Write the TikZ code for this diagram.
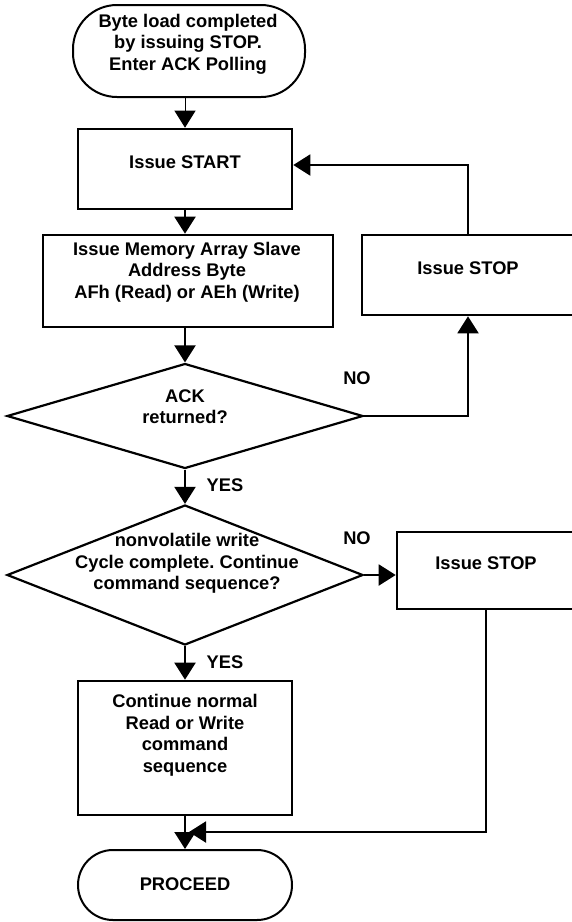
\documentclass[tikz,border=0pt]{standalone}
\usepackage{fontspec}
\setmainfont{Liberation Sans}
\frenchspacing
\usetikzlibrary{shapes.geometric, arrows.meta}

\begin{document}
\begin{tikzpicture}[x=1pt, y=-1pt,
  every node/.style={inner sep=0pt},
  txt/.style={font=\bfseries\fontsize{18.3}{21.5}\selectfont, align=center},
  terminal/.style={draw, line width=2pt, rounded corners=#1},
  stepbox/.style={draw, line width=2.6pt},
  decision/.style={draw, diamond, line width=2.2pt},
  flow/.style={line width=2pt, -{Triangle[length=17pt, width=21pt]}}
]
\useasboundingbox (0,0) rectangle (572,922);
\clip (0,0) rectangle (572,922);

% main column
\node[terminal=44pt, minimum width=232pt, minimum height=92pt] (poll) at (189,51) {};
\node[txt] (pollT) at (188,44) {Byte load completed\\by issuing STOP.\\Enter ACK Polling};
\node[stepbox, minimum width=214pt, minimum height=80pt] (start) at (185,169) {};
\node[txt] (startT) at (185,162) {Issue START};
\node[stepbox, minimum width=290pt, minimum height=92pt] (addr) at (188,281) {};
\node[txt] (addrT) at (187,272) {Issue Memory Array Slave\\Address Byte\\AFh (Read) or AEh (Write)};
\node[decision, minimum width=356pt, minimum height=105pt] (ack) at (185,416) {};
\node[txt] (ackT) at (185,406.5) {ACK\\returned?};
\node[decision, minimum width=356pt, minimum height=140pt] (done) at (185,575) {};
\node[txt] (doneT) at (187,563.5) {nonvolatile write\\Cycle complete. Continue\\command sequence?};
\node[stepbox, minimum width=214pt, minimum height=134pt] (cont) at (185,748) {};
\node[txt] (contT) at (185,735.5) {Continue normal\\Read or Write\\command\\sequence};
\node[terminal=35pt, minimum width=214pt, minimum height=70pt] (proceed) at (185,885) {};
\node[txt] (proceedT) at (185,884) {PROCEED};

% right column
\node[stepbox, minimum width=212pt, minimum height=80pt] (stopA) at (468,275) {};
\node[txt] (stopAT) at (468,268) {Issue STOP};
\node[stepbox, minimum width=178pt, minimum height=77pt] (stopB) at (486,570.5) {};
\node[txt] (stopBT) at (486,563) {Issue STOP};

% branch labels
\node[txt] (noA) at (357,378) {NO};
\node[txt] (yesA) at (225,485) {YES};
\node[txt] (noB) at (357,538) {NO};
\node[txt] (yesB) at (225,662) {YES};

\coordinate (merge) at (189,832);

\draw[flow, line width=1pt] (start.north |- poll.south) -- (start.north);
\draw[flow] (start) -- (start.south |- addr.north);
\draw[flow] (addr.south -| ack.north) -- (ack.north);
\draw[flow] (ack.east) -| (stopA.south);
\draw[flow] (stopA.north) |- ([yshift=4pt]start.east);
\draw[flow] (ack.south) -- (done.north);
\draw[flow] (done.east) -- (stopB.west |- done.east);
\draw[flow] (done.south) -- (cont.north);
\draw[flow] (cont.south) -- (proceed.north);
\draw[flow] (stopB.south) |- (merge);
\end{tikzpicture}
\end{document}
